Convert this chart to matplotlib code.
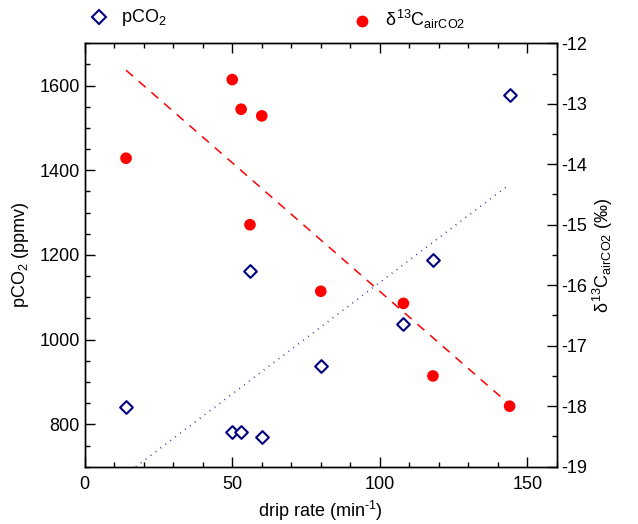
import numpy as np
import matplotlib
matplotlib.use("Agg")
import matplotlib.pyplot as plt
from matplotlib.ticker import MultipleLocator

plt.rcParams['font.family'] = ['Liberation Sans', 'DejaVu Sans']
plt.rcParams['mathtext.fontset'] = 'custom'
plt.rcParams['mathtext.rm'] = 'Liberation Sans'
plt.rcParams['mathtext.it'] = 'Liberation Sans'
plt.rcParams['axes.unicode_minus'] = False

# drip rate (min^-1)
drip_rate = [14, 50, 53, 56, 60, 80, 108, 118, 144]
# pCO2 (ppmv)
pco2 = [840, 783, 781, 1162, 769, 937, 1037, 1187, 1578]
# d13C airCO2 (permil)
d13c = [-13.9, -12.6, -13.09, -15.0, -13.2, -16.1, -16.3, -17.5, -18.0]

x = np.array(drip_rate)

fig = plt.figure(figsize=(6.38, 5.24), dpi=100)
ax = fig.add_axes([0.1328, 0.1094, 0.740, 0.808])
ax2 = ax.twinx()

# linear fits
p1 = np.polyfit(x, pco2, 1)
p2 = np.polyfit(x, d13c, 1)
xf = np.array([x.min(), x.max()])
ax.plot(xf, np.polyval(p1, xf), color='#2020a0', linestyle=(0, (0.5, 3.2)),
        linewidth=1.2, zorder=2)
ax2.plot(xf, np.polyval(p2, xf), color='red', linestyle=(0, (6, 5)),
         linewidth=1.1, zorder=2)

ax.scatter(drip_rate, pco2, marker='D', s=42, facecolors='white',
           edgecolors='#000080', linewidths=1.5, zorder=3)
ax2.scatter(drip_rate, d13c, marker='o', s=70, color='red',
            edgecolors='none', zorder=3)

ax.set_xlim(0, 160)
ax.set_ylim(700, 1700)
ax2.set_ylim(-19, -12)

ax.xaxis.set_major_locator(MultipleLocator(50))
ax.xaxis.set_minor_locator(MultipleLocator(10))
ax.yaxis.set_major_locator(MultipleLocator(200))
ax.yaxis.set_minor_locator(MultipleLocator(50))
ax2.yaxis.set_major_locator(MultipleLocator(1))
ax2.yaxis.set_minor_locator(MultipleLocator(0.5))

ax.tick_params(axis='x', which='both', direction='in', top=True,
               labelsize=13, pad=7)
ax.tick_params(axis='y', which='both', direction='in', labelsize=13)
ax2.tick_params(axis='y', which='both', direction='in', labelsize=13)
for a in (ax, ax2):
    a.tick_params(which='major', length=7, width=1)
    a.tick_params(which='minor', length=3.5, width=1)
    for s in a.spines.values():
        s.set_linewidth(1)

ax.set_xlabel('drip rate (min$^{\u20101}$)', fontsize=13, labelpad=4)
ax.set_ylabel('pCO$_2$ (ppmv)', fontsize=13, labelpad=6)
ax2.set_ylabel('$\\delta^{13}$C$_{\\mathrm{airCO2}}$ (‰)', fontsize=13,
               labelpad=2)

# legend above the plot
ax.plot([99 / 638], [1 - 17 / 524], 'D', markersize=7.5,
        markerfacecolor='white', markeredgecolor='#000080',
        markeredgewidth=1.5, transform=fig.transFigure, clip_on=False)
fig.text(121 / 638, 1 - 18 / 524, 'pCO$_2$', fontsize=13, va='center')
ax.plot([362 / 638], [1 - 21 / 524], 'o', color='red', markersize=8.5,
        markeredgewidth=0, transform=fig.transFigure, clip_on=False)
fig.text(385 / 638, 1 - 19 / 524, '$\\delta^{13}$C$_{\\mathrm{airCO2}}$',
         fontsize=13, va='center')

fig.savefig('out.png', dpi=100)
